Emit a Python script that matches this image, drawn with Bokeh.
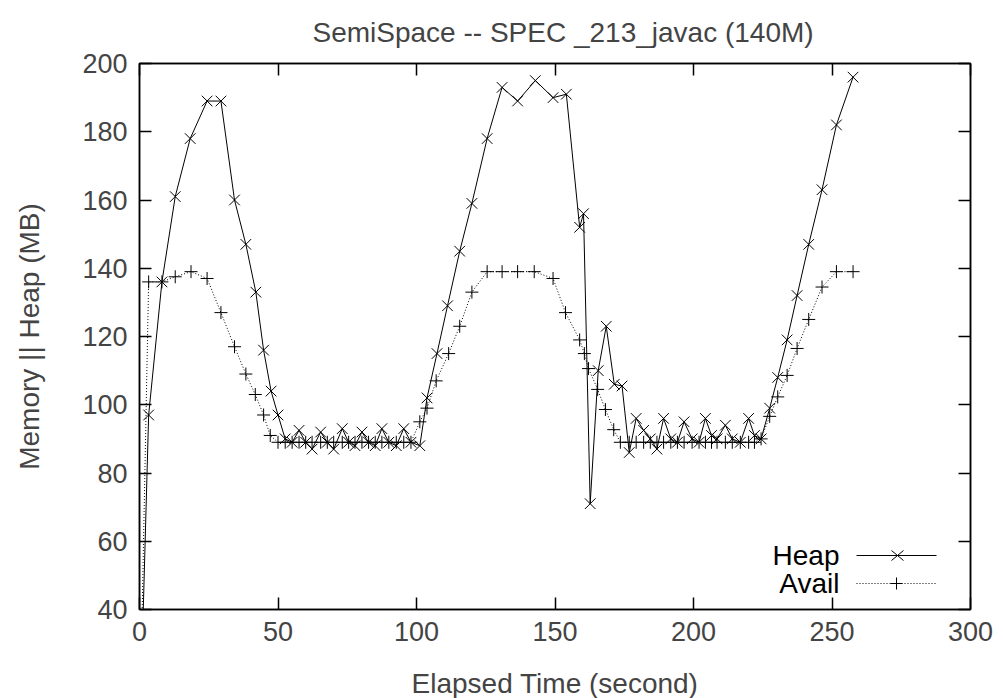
from bokeh.plotting import figure
from bokeh.models import Range1d, LinearAxis, FixedTicker, Label, Arrow
from bokeh.embed import file_html
from bokeh.resources import INLINE

title_text = "SemiSpace -- SPEC _213_javac (140M)"
x_label = "Elapsed Time (second)"
y_label = "Memory || Heap (MB)"
series_names = ["Heap", "Avail"]
x_ticks = [0, 50, 100, 150, 200, 250, 300]
y_ticks = [40, 60, 80, 100, 120, 140, 160, 180, 200]

heap_t = [0, 3.3, 8.1, 12.9, 18.3, 24.4, 29.4, 34.3, 38.4, 42.0, 44.8, 47.5,
          50.0, 52.6, 55.1, 57.6, 60.0, 62.3, 65.4, 67.8, 70.1, 73.2, 75.5, 77.8,
          80.3, 82.7, 85.1, 87.5, 90.0, 92.7, 95.4, 98.0, 101.2, 103.8, 107.4, 111.2,
          115.6, 120.0, 125.5, 130.9, 136.5, 142.9, 149.3, 154.1, 158.9, 160.3, 162.7, 165.6,
          168.5, 171.4, 174.2, 176.8, 179.3, 182.0, 184.4, 186.8, 189.2, 191.8, 194.2, 196.6,
          199.5, 202.0, 204.3, 206.5, 208.5, 211.5, 214.0, 216.9, 219.9, 222.0, 224.4, 227.5,
          230.4, 233.8, 237.4, 241.6, 246.4, 251.6, 257.6]
heap_mb = [0, 97, 136, 161, 178, 189, 189, 160, 147, 133, 116, 104,
           97, 90, 89, 92.5, 89, 87, 92, 89, 87, 93, 89, 88,
           92, 89, 88, 93, 89, 88, 93, 89, 88, 102, 115, 129,
           145, 159, 178, 193, 189, 195, 190, 191, 152, 156, 71, 110,
           123, 106, 105.5, 86, 96, 92.5, 90, 87, 96, 90, 89, 95,
           90, 89, 96, 91, 90, 94, 90, 89, 96, 91, 90, 99,
           108, 119, 132, 147, 163, 182, 196]

avail_t = [0, 3.3, 8.1, 12.9, 18.6, 24.4, 29.4, 34.3, 38.4, 41.8, 44.8, 47.2,
           50.0, 52.6, 55.1, 57.6, 60.0, 62.3, 65.4, 67.8, 70.1, 73.2, 75.5, 77.8,
           80.3, 82.7, 85.1, 87.5, 90.0, 92.7, 95.4, 98.0, 101.2, 103.8, 107.1, 111.6,
           115.6, 120.0, 125.5, 130.9, 136.5, 142.5, 149.3, 153.8, 158.9, 160.6, 162.1, 165.4,
           168.2, 171.2, 173.6, 176.8, 179.3, 182.0, 184.4, 186.8, 189.2, 191.8, 194.2, 196.6,
           199.5, 202.0, 204.3, 206.5, 208.5, 211.5, 214.0, 216.9, 219.9, 222.0, 224.4, 227.5,
           230.4, 233.8, 237.4, 241.6, 246.4, 251.6, 257.6]
avail_mb = [0, 136, 136, 137.5, 139, 137, 127, 117, 109, 103, 97, 91,
            89, 89, 89, 89, 89, 89, 89, 89, 89, 89, 89, 89,
            89, 89, 89, 89, 89, 89, 89, 89, 95, 99, 107, 115,
            123, 133, 139, 139, 139, 139, 137, 127, 119, 115, 110.6, 104.5,
            98.6, 92.7, 89, 89, 89, 89, 89, 89, 89, 89, 89, 89,
            89, 89, 89, 89, 89, 89, 89, 89, 89, 89, 90, 96.6,
            102.3, 108.6, 116.5, 125, 134.5, 139, 139]

FONT = "Liberation Sans"
FS = "28px"
TICK_FS = "27px"

p = figure(frame_width=831, frame_height=546,
           min_border_left=139, min_border_right=25,
           min_border_top=63, min_border_bottom=88,
           x_range=Range1d(0, 300), y_range=Range1d(40, 200),
           output_backend="svg", toolbar_location=None, tools="")

p.title.text = title_text
p.title.text_font = FONT
p.title.text_font_size = FS
p.title.text_font_style = "normal"
p.title.align = "left"
p.title.offset = 173
p.title.standoff = 28
p.title.vertical_align = "top"

p.xgrid.visible = False
p.ygrid.visible = False
p.outline_line_color = "black"
p.outline_line_width = 1.5
p.background_fill_color = "white"
p.border_fill_color = "white"

for ax, ticks, lab in ((p.xaxis[0], x_ticks, x_label), (p.yaxis[0], y_ticks, y_label)):
    ax.ticker = FixedTicker(ticks=ticks)
    ax.axis_label = lab
    ax.axis_label_text_font = FONT
    ax.axis_label_text_font_size = FS
    ax.axis_label_text_font_style = "normal"
    ax.major_label_text_font = FONT
    ax.major_label_text_font_size = TICK_FS
    ax.major_tick_in = 12
    ax.major_tick_out = 0
    ax.minor_tick_line_color = None
    ax.axis_line_width = 1.5
    ax.major_tick_line_width = 1.5
    ax.major_label_standoff = 12
p.xaxis[0].axis_label_standoff = 24
p.yaxis[0].axis_label_standoff = 34

for side, ticks in (("above", x_ticks), ("right", y_ticks)):
    m = LinearAxis(ticker=FixedTicker(ticks=ticks),
                   major_label_text_font_size="0px",
                   major_label_text_color=None,
                   major_tick_in=12, major_tick_out=0,
                   major_tick_line_width=1.5, axis_line_width=1.5,
                   minor_tick_line_color=None, major_label_standoff=0)
    p.add_layout(m, side)

p.line(heap_t, heap_mb, line_color="black", line_width=1)
p.scatter(heap_t, heap_mb, marker="x", size=15, line_color="black", line_width=1)
p.line(avail_t, avail_mb, line_color="black", line_width=1, line_dash="1 2")
p.scatter(avail_t, avail_mb, marker="cross", size=13, line_color="black", line_width=1)

# legend (label on the left, sample on the right), placed in screen units
rows = [(series_names[0], 54, "solid", "x"), (series_names[1], 26, "1 2", "+")]
for name, yy, dash, mk in rows:
    p.add_layout(Label(x=700, y=yy, x_units="screen", y_units="screen", text=name,
                       text_font=FONT, text_font_size=FS, text_align="right",
                       text_baseline="middle", text_color="black"))
    p.add_layout(Arrow(end=None, x_start=717, y_start=yy, x_end=797, y_end=yy,
                       start_units="screen", end_units="screen",
                       line_color="black", line_width=1, line_dash=dash))
    if mk == "x":
        for dy in (-1, 1):
            p.add_layout(Arrow(end=None, x_start=752, y_start=yy - 5 * dy, x_end=764, y_end=yy + 5 * dy,
                               start_units="screen", end_units="screen",
                               line_color="black", line_width=1))
    else:
        p.add_layout(Arrow(end=None, x_start=751, y_start=yy, x_end=763, y_end=yy,
                           start_units="screen", end_units="screen",
                           line_color="black", line_width=1))
        p.add_layout(Arrow(end=None, x_start=757, y_start=yy - 6, x_end=757, y_end=yy + 6,
                           start_units="screen", end_units="screen",
                           line_color="black", line_width=1))

open("out.html", "w").write(file_html(p, INLINE))
